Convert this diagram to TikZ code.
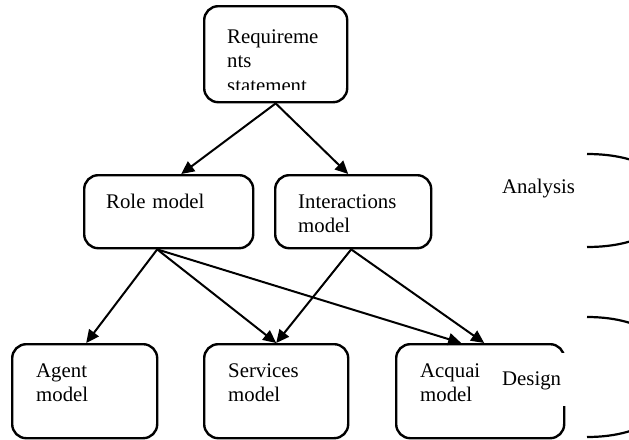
\documentclass[tikz,border=0pt]{standalone}
\usepackage{fontspec}
\setmainfont{Liberation Serif}
\usetikzlibrary{arrows.meta,calc}
\begin{document}
\begin{tikzpicture}[x=1pt,y=-1pt,
  box/.style={draw,line width=2.4pt,rounded corners=14pt,inner sep=0pt,anchor=north west},
  lbl/.style={inner sep=0pt,anchor=base west,align=left,text width=#1,
    font=\fontsize{20.8}{24.5}\selectfont},
  lbl/.default=120pt,
  arr/.style={line width=2pt,-{Triangle[length=13pt,width=12pt]}},
  brk/.style={line width=2.2pt}]
\useasboundingbox (0,0) rectangle (629,439);
% boxes
\node[box,minimum width=143pt,minimum height=96pt] (req) at (203,5) {};
\node[box,minimum width=169pt,minimum height=73pt] (role) at (83,174) {};
\node[box,minimum width=156pt,minimum height=73pt] (inter) at (274,174) {};
\node[box,minimum width=145pt,minimum height=94pt] (agent) at (11,343) {};
\node[box,minimum width=144pt,minimum height=94pt] (serv) at (203,343) {};
\node[box,minimum width=168pt,minimum height=94pt] (acq) at (395,343) {};
% labels
\begin{scope}
\clip (203,5) rectangle (346,89.5);
\node[lbl=110pt] (reqt) at (227,43) {Requireme\\nts\\statement};
\end{scope}
\node[lbl] (rolet) at (106,208) {Role model};
\node[lbl] (intert) at (298,208) {Interactions\\model};
\node[lbl] (agentt) at (36,377) {Agent\\model};
\node[lbl] (servt) at (228,377) {Services\\model};
\node[lbl] (acqt) at (420,377) {Acquai\\model};
% Design label box covering the border
\fill[white] (481,353) rectangle (568,406);
\node[lbl] (design) at (502,385) {Design};
\node[lbl] (analysis) at (502,193) {Analysis};
% arrows
\draw[arr] (req.south) -- ([xshift=12.5pt]role.north);
\draw[arr] (req.south) -- ([xshift=-5pt]inter.north);
\draw[arr] ([xshift=-11.5pt]role.south) -- ([xshift=1.5pt]agent.north);
\draw[arr] ([xshift=-11.5pt]role.south) -- (serv.north);
\draw[arr] ([xshift=-11.5pt]role.south) -- ([xshift=-19pt]acq.north);
\draw[arr] ([xshift=-2pt]inter.south) -- (serv.north);
\draw[arr] ([xshift=-2pt]inter.south) -- ([xshift=4pt]acq.north);
% brackets
\begin{scope}
\clip (0,0) rectangle (629,439);
\draw[brk] (587,154) .. controls (700,154) and (700,247) .. (587,247);
\draw[brk] (587,317) .. controls (710,317) and (710,437) .. (587,437);
\end{scope}
\end{tikzpicture}
\end{document}
